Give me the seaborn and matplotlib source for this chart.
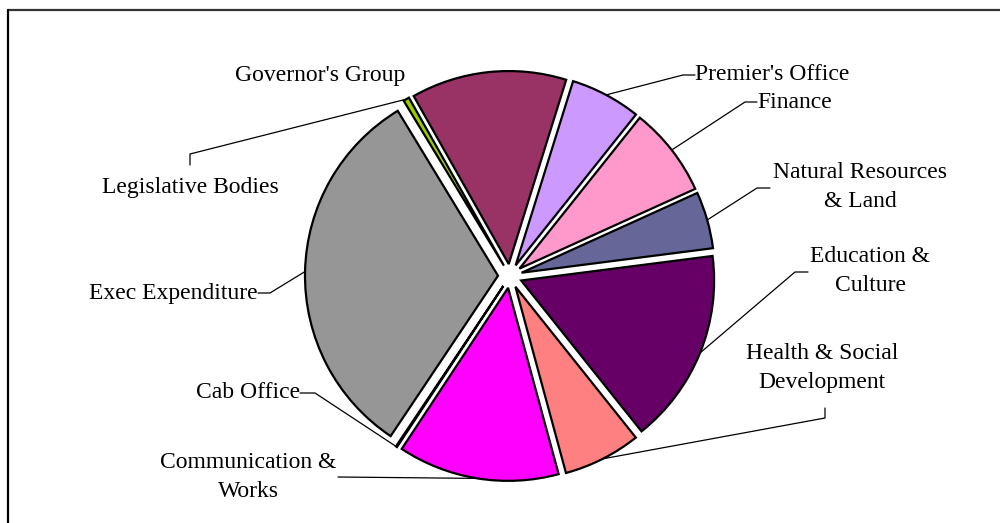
import matplotlib
matplotlib.use("Agg")
import matplotlib.pyplot as plt
import numpy as np
import seaborn as sns

# budget share by department (%), clockwise from the top
departments = [
    "Governor's Group", "Premier's Office", "Finance", "Natural Resources\n& Land",
    "Education &\nCulture", "Health & Social\nDevelopment", "Communication &\nWorks",
    "Cab Office", "Exec Expenditure", "Legislative Bodies",
]
shares = [13.0, 5.9, 7.5, 4.75, 16.3, 6.5, 13.5, 0.1, 31.9, 0.5]
colors = ["#993366", "#CC99FF", "#FF99CC", "#666699", "#660066",
          "#FF8080", "#FF00FF", "#C0C0C0", "#969696", "#99CC00"]

H = 523  # figure height in px, layout below is in px with y going down


def px(x, y):
    return x, H - y


# label anchor, alignment and leader elbow points (px, y down)
label_pos = [
    ((405, 76), "right", []),
    ((695, 75), "left", [(683, 75), (695, 75)]),
    ((757, 102), "left", [(745, 102), (757, 102)]),
    ((860, 187), "center", [(757, 188), (770, 188)]),
    ((870, 271), "center", [(795, 272), (808, 272)]),
    ((822, 368), "center", [(825, 418), (825, 408)]),
    ((248, 477), "center", [(338, 477)]),
    ((300, 392), "right", [(315, 393), (300, 393)]),
    ((258, 293), "right", [(270, 293), (258, 293)]),
    ((190, 187), "center", [(190, 154), (190, 165)]),
]

sns.set_theme(style="white")
plt.rcParams["font.family"] = ["Liberation Serif", "DejaVu Serif"]

fig = plt.figure(figsize=(10, 5.23), dpi=100)
ax = fig.add_axes([0, 0, 1, 1])

# explode is in data units here (radius = 193)
wedges, _ = ax.pie(
    shares, colors=colors, startangle=119.5, counterclock=False,
    center=px(510, 276), radius=193, explode=[12] * len(shares),
    wedgeprops=dict(edgecolor="black", linewidth=1.6), frame=True,
)
ax.set_xlim(0, 1000)
ax.set_ylim(0, H)
ax.axis("off")

for w, name, (pos, ha, elbow) in zip(wedges, departments, label_pos):
    mid = np.deg2rad((w.theta1 + w.theta2) / 2)
    cx, cy = w.center
    start = (cx + w.r * np.cos(mid), cy + w.r * np.sin(mid))
    if elbow:
        pts = [start] + [px(*p) for p in elbow]
        xs, ys = zip(*pts)
        ax.plot(xs, ys, color="black", lw=0.9, zorder=0)
    tx, ty = px(*pos)
    ax.text(tx, ty, name, ha=ha, va="center", fontsize=17,
            multialignment="center", linespacing=1.5, color="black")

# chart frame, only top and left edges are in view
ax.plot([8, 1000], [H - 10, H - 10], color="#333333", lw=1.6, clip_on=False)
ax.plot([8, 8], [H - 10, 0], color="black", lw=1.6, clip_on=False)

fig.savefig("out.png", dpi=100)
